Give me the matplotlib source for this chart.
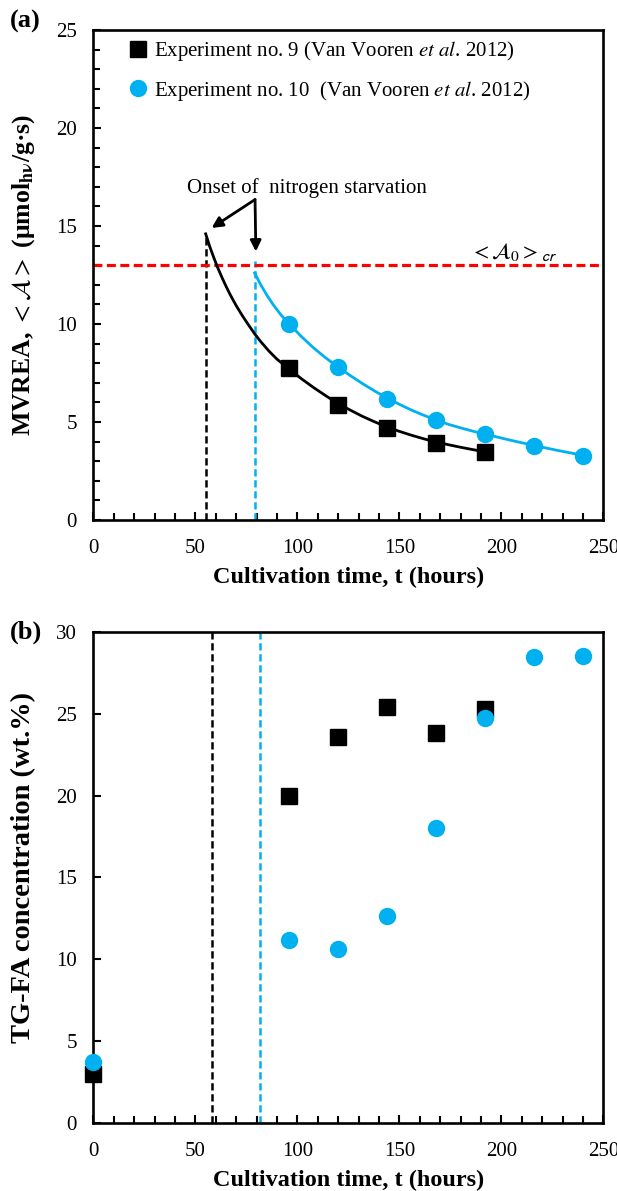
import numpy as np
import matplotlib
matplotlib.use("Agg")
import matplotlib.pyplot as plt
from matplotlib.lines import Line2D
from matplotlib.ticker import MultipleLocator

plt.rcParams['font.family'] = ['Liberation Serif', 'DejaVu Serif']
plt.rcParams['mathtext.fontset'] = 'stix'

BLUE = '#00B0F0'

# ---- panel (a): MVREA ----
t_a9 = [96, 120, 144, 168, 192]
mvrea_9 = [7.75, 5.87, 4.71, 3.95, 3.45]
t_a10 = [96, 120, 144, 168, 192, 216, 240]
mvrea_10 = [10.0, 7.8, 6.16, 5.09, 4.4, 3.78, 3.28]

# model curves, values
fit9_t = [55, 57, 59, 61, 63, 65, 67, 70, 73, 76, 79, 82, 86, 90, 96, 102, 108, 114,
          120, 126, 132, 138, 144, 150, 156, 162, 168, 174, 180, 186, 192]
fit9_v = [14.6, 13.95, 13.38, 12.85, 12.37, 11.92, 11.5, 10.93, 10.42, 9.95, 9.5, 9.1,
          8.62, 8.2, 7.7, 7.2, 6.75, 6.33, 5.93, 5.6, 5.28, 5.0, 4.74, 4.52, 4.32, 4.14,
          3.98, 3.84, 3.71, 3.59, 3.48]
fit10_t = [79, 82, 85, 88, 92, 96, 102, 108, 114, 120, 126, 132, 138, 144, 150, 156,
           162, 168, 174, 180, 186, 192, 198, 204, 210, 216, 222, 228, 234, 240]
fit10_v = [12.6, 12.0, 11.47, 11.0, 10.45, 10.0, 9.35, 8.77, 8.26, 7.8, 7.36, 6.95,
           6.57, 6.22, 5.9, 5.6, 5.34, 5.1, 4.88, 4.7, 4.53, 4.38, 4.23, 4.08, 3.94,
           3.8, 3.67, 3.54, 3.42, 3.3]

onset_9 = 55
onset_10 = 79
A_cr = 13.0

# ---- panel (b): TG-FA ----
t_b9 = [0, 96, 120, 144, 168, 192]
tgfa_9 = [3.0, 19.95, 23.6, 25.4, 23.8, 25.3]
t_b10 = [0, 96, 120, 144, 168, 192, 216, 240]
tgfa_10 = [3.7, 11.2, 10.6, 12.65, 18.0, 24.75, 28.45, 28.55]
onset_b9 = 58
onset_b10 = 81.5

fig = plt.figure(figsize=(6.17, 11.91), dpi=100)
ax1 = fig.add_axes([0.1515, 0.5634, 0.8266, 0.4114])
ax2 = fig.add_axes([0.1515, 0.0571, 0.8266, 0.4123])


def style_axes(ax, ymax, ystep, yminor):
    ax.set_xlim(0, 250)
    ax.set_ylim(0, ymax)
    ax.xaxis.set_major_locator(MultipleLocator(50))
    ax.xaxis.set_minor_locator(MultipleLocator(10))
    ax.yaxis.set_major_locator(MultipleLocator(ystep))
    if yminor:
        ax.yaxis.set_minor_locator(MultipleLocator(yminor))
    ax.tick_params(which='both', direction='in', width=1.5, labelsize=15,
                   top=False, right=False)
    ax.tick_params(which='major', length=6)
    ax.tick_params(which='minor', length=5)
    ax.tick_params(axis='x', which='major', pad=14)
    ax.tick_params(axis='y', which='major', pad=12)
    for s in ax.spines.values():
        s.set_linewidth(1.9)
    ax.set_xlabel('Cultivation time, t (hours)', fontsize=17.5, fontweight='bold', labelpad=6)


style_axes(ax1, 25, 5, 1)
style_axes(ax2, 30, 5, None)

dash = (0, (2.9, 1.5))

# panel (a)
ax1.plot([onset_9, onset_9], [0, 14.5], ls=dash, color='black', lw=1.8)
ax1.plot([onset_10, onset_10], [0, 13.2], ls=dash, color=BLUE, lw=1.8)
ax1.axhline(A_cr, ls=(0, (2.8, 1.4)), color='red', lw=2.3)
ax1.plot(fit9_t, fit9_v, color='black', lw=2)
ax1.plot(fit10_t, fit10_v, color=BLUE, lw=2)
ax1.plot(t_a9, mvrea_9, 's', color='black', ms=11.5)
ax1.plot(t_a10, mvrea_10, 'o', color=BLUE, ms=11.5)

ax1.text(104.7, 16.95, 'Onset of  nitrogen starvation', ha='center', va='center', fontsize=15)
for tip in [(57.9, 14.9), (79.6, 13.7)]:
    ax1.annotate('', xy=tip, xytext=(79.2, 16.35),
                 arrowprops=dict(arrowstyle='-|>', color='black', lw=2,
                                 mutation_scale=16, shrinkA=0, shrinkB=0))
ax1.text(184.5, 13.35, r'$<\mathcal{A}_{0}>_{\mathsf{cr}}$', fontsize=16)

handles = [Line2D([], [], ls='none', marker='s', color='black', ms=11.5),
           Line2D([], [], ls='none', marker='o', color=BLUE, ms=11.5)]
labels = [r'Experiment no. 9 (Van Vooren $\mathit{et\ al}$. 2012)',
          r'Experiment no. 10  (Van Vooren $\mathit{et\ al}$. 2012)']
ax1.legend(handles, labels, loc='upper left', bbox_to_anchor=(0.02, 1.02),
           frameon=False, fontsize=15, handletextpad=0.0, labelspacing=0.75,
           handlelength=1.5)
ax1.set_ylabel(r'MVREA, $<\mathcal{A}>$ (μmol$_{\mathbf{h\nu}}$/g·s)',
               fontsize=18.5, fontweight='bold')
ax1.yaxis.set_label_coords(-0.111, 0.5)

# panel (b)
ax2.axvline(onset_b9, ls=dash, color='black', lw=1.8)
ax2.axvline(onset_b10, ls=dash, color=BLUE, lw=1.8)
ax2.plot(t_b9, tgfa_9, 's', color='black', ms=11.5, clip_on=False, zorder=4)
ax2.plot(t_b10, tgfa_10, 'o', color=BLUE, ms=11.5, clip_on=False, zorder=5)
ax2.set_ylabel('TG-FA concentration (wt.%)', fontsize=20.5, fontweight='bold')
ax2.yaxis.set_label_coords(-0.113, 0.52)

fig.text(0.016, 0.982, '(a)', fontsize=19, fontweight='bold', va='center')
fig.text(0.016, 0.4694, '(b)', fontsize=19, fontweight='bold', va='center')

fig.savefig('out.png', dpi=100)
